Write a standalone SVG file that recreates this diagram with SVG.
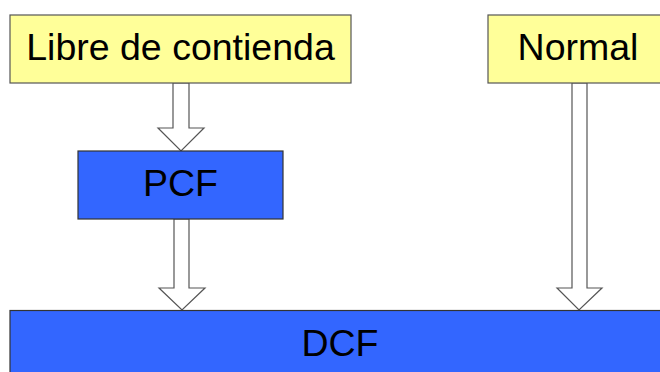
<svg xmlns="http://www.w3.org/2000/svg" width="660" height="372" viewBox="0 0 660 372">
  <style>
    .yellow { fill: #FFFF99; stroke: #555555; stroke-width: 1.2; }
    .blue { fill: #3366FF; stroke: #333333; stroke-width: 1.2; }
    .label { font-family: "Liberation Sans", Arial, sans-serif; font-size: 37.5px; fill: #000000; text-anchor: middle; }
    .arrow { fill: #FFFFFF; stroke: #555555; stroke-width: 1.2; stroke-linejoin: miter; }
  </style>
  <rect x="0" y="0" width="660" height="372" fill="#FFFFFF"/>

  <g id="connectors">
    <!-- block arrow: Libre de contienda -> PCF -->
    <path class="arrow" d="M173,83 L189,83 L189,128 L204,128 L181,151 L158,128 L173,128 Z"/>
    <!-- block arrow: PCF -> DCF -->
    <path class="arrow" d="M174,219 L189,219 L189,288 L205,288 L182,310 L159,288 L174,288 Z"/>
    <!-- block arrow: Normal -> DCF -->
    <path class="arrow" d="M572,83 L587,83 L587,288 L602,288 L579,310 L557,288 L572,288 Z"/>
  </g>

  <g id="node-libre">
    <rect class="yellow" x="10" y="15" width="341" height="68"/>
    <text class="label" x="180.5" y="59.5">Libre de contienda</text>
  </g>

  <g id="node-normal">
    <rect class="yellow" x="488" y="15" width="190" height="68"/>
    <text class="label" x="578" y="59.5">Normal</text>
  </g>

  <g id="node-pcf">
    <rect class="blue" x="78" y="151" width="205" height="68"/>
    <text class="label" x="180.5" y="195.5">PCF</text>
  </g>

  <g id="node-dcf">
    <rect class="blue" x="10" y="310.5" width="670" height="80"/>
    <text class="label" x="340" y="355.5">DCF</text>
  </g>
</svg>
